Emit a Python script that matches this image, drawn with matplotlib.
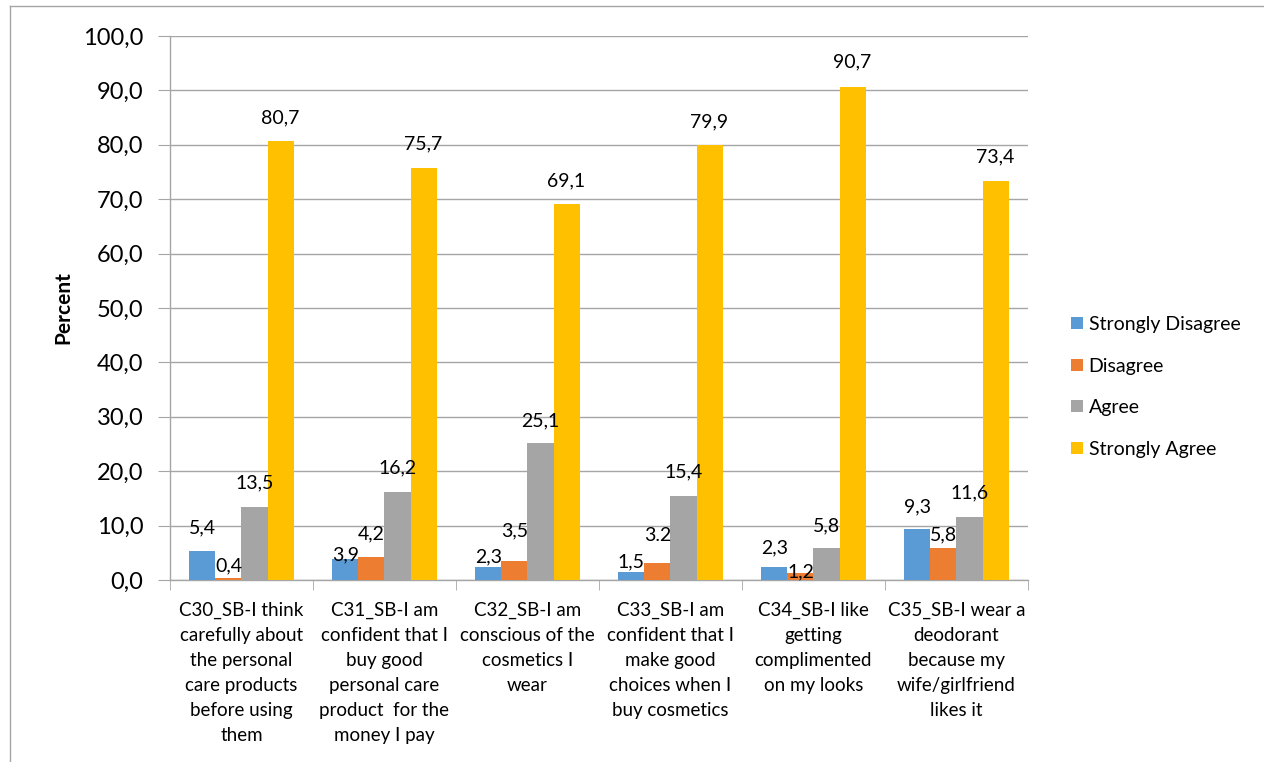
import numpy as np
import matplotlib
matplotlib.use("Agg")
import matplotlib.pyplot as plt
from matplotlib.lines import Line2D

plt.rcParams['font.family'] = ['Lato', 'DejaVu Sans']

categories = [
    "C30_SB-I think\ncarefully about\nthe personal\ncare products\nbefore using\nthem",
    "C31_SB-I am\nconfident that I\nbuy good\npersonal care\nproduct  for the\nmoney I pay",
    "C32_SB-I am\nconscious of the\ncosmetics I\nwear",
    "C33_SB-I am\nconfident that I\nmake good\nchoices when I\nbuy cosmetics",
    "C34_SB-I like\ngetting\ncomplimented\non my looks",
    "C35_SB-I wear a\ndeodorant\nbecause my\nwife/girlfriend\nlikes it",
]
series_names = ["Strongly Disagree", "Disagree", "Agree", "Strongly Agree"]
strongly_disagree = [5.4, 3.9, 2.3, 1.5, 2.3, 9.3]
disagree = [0.4, 4.2, 3.5, 3.2, 1.2, 5.8]
agree = [13.5, 16.2, 25.1, 15.4, 5.8, 11.6]
strongly_agree = [80.7, 75.7, 69.1, 79.9, 90.7, 73.4]
series = [strongly_disagree, disagree, agree, strongly_agree]
colors = ["#5B9BD5", "#ED7D31", "#A5A5A5", "#FFC000"]

# label offsets above the bar top (pixels), some labels were nudged by hand
label_dy = [
    [23, 4, 11, 10, 20, 23],
    [12, 23, 30, 27, 2, 14],
    [24, 24, 23, 24, 23, 24],
    [23, 24, 23, 23, 25, 24],
]
dot_labels = {(1, 3)}  # this one was typed with a decimal point

fig = plt.figure(figsize=(12.64, 7.62), dpi=100)
ax = fig.add_axes([170 / 1264, 1 - 580 / 762, (1028 - 170) / 1264, (580 - 36) / 762])

x = np.arange(len(categories))
bw = 0.182
px2pt = 72 / fig.dpi

for i, (vals, col) in enumerate(zip(series, colors)):
    pos = x + (i - 1.5) * bw
    ax.bar(pos, vals, width=bw, color=col, label=series_names[i], zorder=3, linewidth=0)
    for j, (p, v) in enumerate(zip(pos, vals)):
        txt = f"{v:.1f}"
        if (i, j) not in dot_labels:
            txt = txt.replace(".", ",")
        ax.annotate(txt, (p, v), xytext=(0, label_dy[i][j] * px2pt),
                    textcoords="offset points", ha="center", va="center",
                    fontsize=14, color="#000000", zorder=4)

ax.set_xlim(-0.5, len(categories) - 0.5)
ax.set_ylim(0, 100)
ax.set_yticks(np.arange(0, 101, 10))
ax.set_yticklabels([f"{t:.1f}".replace(".", ",") for t in np.arange(0, 101, 10)], fontsize=17)
ax.yaxis.grid(True, color="#A6A6A6", linewidth=1, zorder=0)

ax.set_xticks(x)
ax.set_xticklabels(categories, fontsize=13.5, linespacing=1.56, va="top")
ax.set_xticks(np.arange(-0.5, len(categories)), minor=True)
ax.tick_params(axis="x", which="major", length=0, pad=16)
ax.tick_params(axis="x", which="minor", length=7, color="#A6A6A6", direction="out")
ax.tick_params(axis="y", length=9, color="#A6A6A6", pad=10)

for side in ["top", "right"]:
    ax.spines[side].set_visible(False)
for side in ["left", "bottom"]:
    ax.spines[side].set_color("#A6A6A6")
    ax.spines[side].set_linewidth(1)

ax.set_ylabel("Percent", fontsize=15, fontweight="bold", labelpad=7)

leg = ax.legend(loc="center left", bbox_to_anchor=(1.03, 0.355), frameon=False,
                fontsize=14, handlelength=0.6, handleheight=0.6,
                handletextpad=0.3, labelspacing=1.26)

# outer frame of the chart area
fig.add_artist(Line2D([10 / 1264, 10 / 1264], [0, 1 - 6 / 762], transform=fig.transFigure,
                      color="#A6A6A6", linewidth=1))
fig.add_artist(Line2D([10 / 1264, 1], [1 - 6 / 762, 1 - 6 / 762], transform=fig.transFigure,
                      color="#A6A6A6", linewidth=1))

fig.savefig("out.png", dpi=100)
